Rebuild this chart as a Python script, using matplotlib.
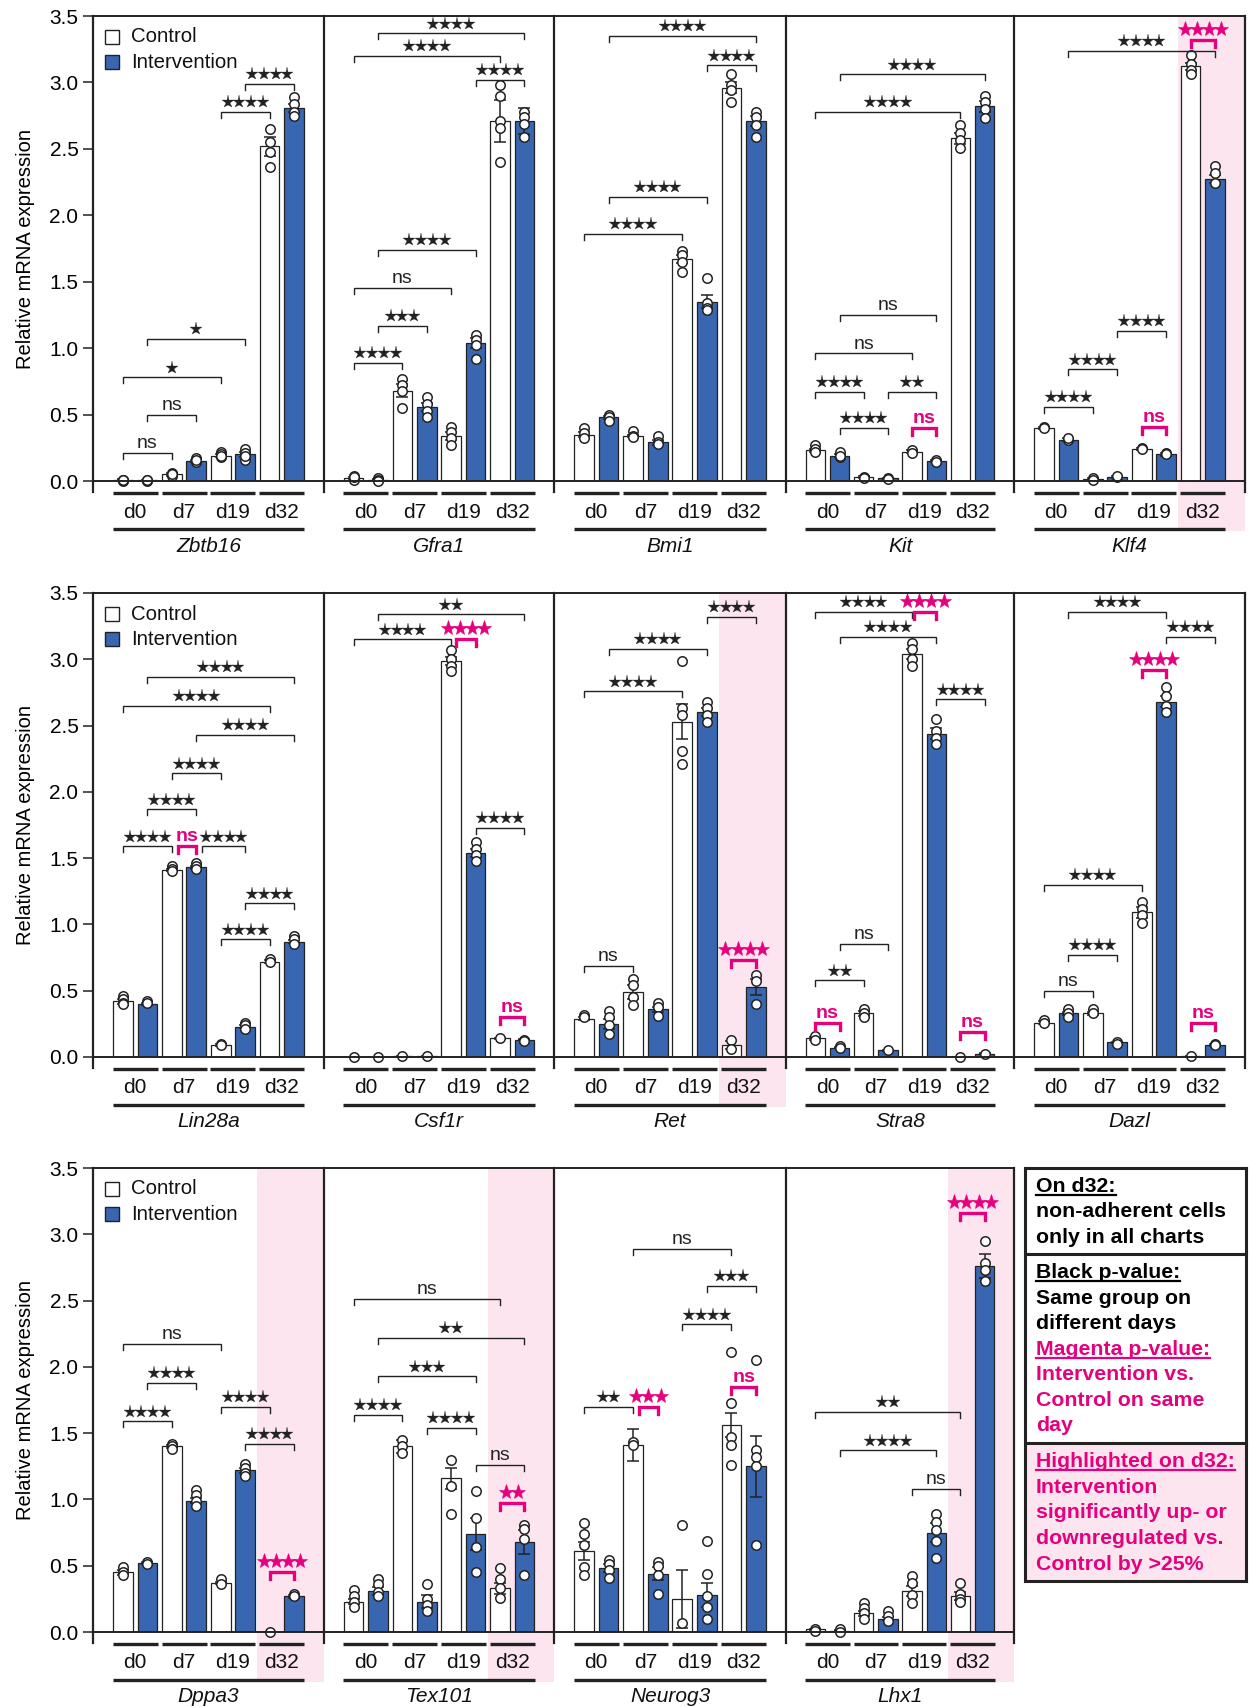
import matplotlib
matplotlib.use("Agg")
import matplotlib.pyplot as plt
from matplotlib.patches import Rectangle
from matplotlib.lines import Line2D
from matplotlib.transforms import ScaledTranslation
import numpy as np

plt.rcParams['font.family'] = ['Liberation Sans', 'DejaVu Sans']

W, H = 1249, 1707
BLUE = "#3866b0"
MAGENTA = "#e5007e"
PINK = "#fde5ef"
INK = "#222222"

genes = ["Zbtb16", "Gfra1", "Bmi1", "Kit", "Klf4",
         "Lin28a", "Csf1r", "Ret", "Stra8", "Dazl",
         "Dppa3", "Tex101", "Neurog3", "Lhx1"]
days = ["d0", "d7", "d19", "d32"]
highlighted = ["Klf4", "Ret", "Dppa3", "Tex101", "Lhx1"]

# bar heights (mean) per gene, d0..d32
ctrl_mean = [
    [0.01, 0.05, 0.19, 2.52], [0.02, 0.68, 0.34, 2.71], [0.35, 0.34, 1.67, 2.96],
    [0.23, 0.03, 0.22, 2.58], [0.40, 0.015, 0.24, 3.12],
    [0.42, 1.41, 0.09, 0.72], [0.0, 0.005, 2.99, 0.14], [0.29, 0.49, 2.53, 0.09],
    [0.14, 0.33, 3.04, 0.0], [0.26, 0.33, 1.09, 0.005],
    [0.45, 1.40, 0.37, 0.0], [0.23, 1.40, 1.16, 0.33], [0.61, 1.41, 0.25, 1.56],
    [0.02, 0.14, 0.31, 0.27],
]
int_mean = [
    [0.005, 0.15, 0.20, 2.81], [0.01, 0.56, 1.04, 2.71], [0.48, 0.29, 1.35, 2.71],
    [0.19, 0.02, 0.15, 2.82], [0.31, 0.03, 0.20, 2.27],
    [0.40, 1.43, 0.23, 0.87], [0.0, 0.005, 1.54, 0.13], [0.25, 0.36, 2.60, 0.53],
    [0.07, 0.05, 2.44, 0.025], [0.33, 0.11, 2.68, 0.09],
    [0.52, 0.99, 1.22, 0.27], [0.31, 0.23, 0.74, 0.68], [0.48, 0.44, 0.28, 1.25],
    [0.01, 0.10, 0.75, 2.76],
]
ctrl_sem = [
    [0.003, 0.01, 0.01, 0.07], [0.01, 0.05, 0.03, 0.16], [0.02, 0.01, 0.03, 0.04],
    [0.01, 0.005, 0.01, 0.04], [0.01, 0.005, 0.01, 0.03],
    [0.02, 0.01, 0.005, 0.01], [0.0, 0.002, 0.03, 0.005], [0.01, 0.05, 0.13, 0.03],
    [0.01, 0.02, 0.04, 0.0], [0.01, 0.01, 0.04, 0.002],
    [0.02, 0.01, 0.01, 0.0], [0.02, 0.05, 0.08, 0.04], [0.07, 0.12, 0.22, 0.09],
    [0.005, 0.02, 0.04, 0.03],
]
int_sem = [
    [0.002, 0.01, 0.02, 0.03], [0.005, 0.03, 0.04, 0.10], [0.01, 0.02, 0.05, 0.04],
    [0.01, 0.005, 0.01, 0.04], [0.01, 0.005, 0.01, 0.03],
    [0.01, 0.01, 0.01, 0.01], [0.0, 0.002, 0.03, 0.005], [0.04, 0.02, 0.03, 0.06],
    [0.005, 0.005, 0.04, 0.005], [0.01, 0.005, 0.04, 0.005],
    [0.005, 0.02, 0.02, 0.01], [0.03, 0.05, 0.12, 0.09], [0.03, 0.05, 0.09, 0.23],
    [0.005, 0.01, 0.07, 0.09],
]

# individual replicates
ctrl_pts = [
    [[0.0, 0.01, 0.005, 0.01], [0.06, 0.05, 0.04, 0.05], [0.22, 0.20, 0.18, 0.19], [2.65, 2.55, 2.48, 2.36]],
    [[0.04, 0.02, 0.01, 0.03], [0.77, 0.72, 0.68, 0.55], [0.41, 0.37, 0.32, 0.27], [2.98, 2.90, 2.71, 2.66, 2.40]],
    [[0.40, 0.36, 0.32], [0.38, 0.34, 0.33], [1.73, 1.70, 1.65, 1.57], [3.06, 2.98, 2.94, 2.85]],
    [[0.27, 0.24, 0.22], [0.03, 0.02], [0.23, 0.21], [2.68, 2.62, 2.57, 2.51]],
    [[0.41, 0.40], [0.02, 0.01], [0.25, 0.24], [3.21, 3.14, 3.09, 3.06]],
    [[0.46, 0.44, 0.41, 0.40], [1.44, 1.42, 1.40], [0.10, 0.09], [0.74, 0.72]],
    [[0.0], [0.005], [3.07, 3.00, 2.95, 2.91], [0.14]],
    [[0.32, 0.30], [0.59, 0.54, 0.45, 0.39], [2.99, 2.63, 2.58, 2.31, 2.21], [0.13, 0.06]],
    [[0.16, 0.13], [0.36, 0.33, 0.30], [3.12, 3.08, 3.00, 2.95], [0.0]],
    [[0.28, 0.26], [0.36, 0.33], [1.17, 1.12, 1.07, 1.01], [0.005]],
    [[0.49, 0.45, 0.43], [1.42, 1.40, 1.38], [0.40, 0.36], [0.0]],
    [[0.32, 0.27, 0.23, 0.19], [1.45, 1.40, 1.35], [1.30, 1.10, 0.89], [0.48, 0.40, 0.33, 0.26]],
    [[0.82, 0.74, 0.66, 0.49, 0.43], [1.43, 1.41], [0.81, 0.07], [2.11, 1.73, 1.47, 1.41, 1.26]],
    [[0.02, 0.01], [0.22, 0.18, 0.14, 0.10], [0.42, 0.37, 0.28, 0.22], [0.37, 0.29, 0.25, 0.23]],
]
int_pts = [
    [[0.0, 0.005, 0.01], [0.17, 0.15, 0.14, 0.16], [0.24, 0.21, 0.16, 0.19], [2.89, 2.84, 2.78, 2.75]],
    [[0.02, 0.01, 0.0], [0.63, 0.58, 0.53, 0.48], [1.10, 1.06, 1.02, 0.92], [2.78, 2.74, 2.69, 2.59]],
    [[0.50, 0.48, 0.45], [0.34, 0.29, 0.28], [1.53, 1.34, 1.30, 1.29], [2.78, 2.74, 2.68, 2.59]],
    [[0.22, 0.18, 0.19], [0.02, 0.015], [0.16, 0.14], [2.90, 2.85, 2.80, 2.73]],
    [[0.31, 0.32], [0.03, 0.04], [0.21, 0.20], [2.37, 2.32, 2.24]],
    [[0.42, 0.41], [1.46, 1.44, 1.42], [0.26, 0.24, 0.21], [0.91, 0.89, 0.85]],
    [[0.0], [0.005], [1.62, 1.57, 1.52, 1.48], [0.13, 0.12]],
    [[0.35, 0.30, 0.24, 0.17], [0.41, 0.38, 0.31], [2.68, 2.63, 2.58, 2.53], [0.62, 0.57, 0.40]],
    [[0.08, 0.07], [0.05], [2.55, 2.46, 2.41, 2.36], [0.025]],
    [[0.36, 0.33, 0.30], [0.11, 0.10], [2.79, 2.72, 2.65, 2.60], [0.10, 0.09]],
    [[0.53, 0.51], [1.07, 1.03, 0.99, 0.95], [1.27, 1.24, 1.20, 1.18], [0.29, 0.27]],
    [[0.40, 0.36, 0.30, 0.27], [0.36, 0.25, 0.20, 0.16], [1.06, 0.86, 0.64, 0.45], [0.81, 0.78, 0.70, 0.43]],
    [[0.54, 0.51, 0.47, 0.41], [0.53, 0.50, 0.43, 0.29], [0.69, 0.44, 0.27, 0.19, 0.10], [2.05, 1.37, 1.32, 1.25, 0.66]],
    [[0.02, 0.0], [0.16, 0.12, 0.08], [0.89, 0.83, 0.77, 0.69, 0.56], [2.95, 2.78, 2.73, 2.65]],
]

# significance brackets: (from bar, to bar, height, label, intervention-vs-control)
# bar index = 2*day for control, 2*day+1 for intervention
brackets = [
    [(0, 2, 0.21, "ns", 0), (1, 3, 0.50, "ns", 0), (0, 4, 0.78, "*", 0), (1, 5, 1.07, "*", 0),
     (4, 6, 2.78, "****", 0), (5, 7, 2.99, "****", 0)],
    [(0, 2, 0.89, "****", 0), (1, 3, 1.17, "***", 0), (0, 4, 1.45, "ns", 0), (1, 5, 1.74, "****", 0),
     (5, 7, 3.02, "****", 0), (0, 6, 3.20, "****", 0), (1, 7, 3.37, "****", 0)],
    [(0, 4, 1.86, "****", 0), (1, 5, 2.14, "****", 0), (5, 7, 3.13, "****", 0), (1, 7, 3.35, "****", 0)],
    [(0, 2, 0.67, "****", 0), (1, 3, 0.40, "****", 0), (3, 5, 0.67, "**", 0), (4, 5, 0.40, "ns", 1),
     (0, 4, 0.96, "ns", 0), (1, 5, 1.25, "ns", 0), (0, 6, 2.78, "****", 0), (1, 7, 3.06, "****", 0)],
    [(0, 2, 0.56, "****", 0), (1, 3, 0.84, "****", 0), (3, 5, 1.13, "****", 0), (4, 5, 0.41, "ns", 1),
     (1, 7, 3.24, "****", 0), (6, 7, 3.32, "****", 1)],
    [(0, 2, 1.59, "****", 0), (2.25, 3, 1.59, "ns", 1), (3.25, 5, 1.59, "****", 0), (1, 3, 1.87, "****", 0),
     (2, 4, 2.14, "****", 0), (3, 7, 2.43, "****", 0), (0, 6, 2.65, "****", 0), (1, 7, 2.87, "****", 0),
     (4, 6, 0.89, "****", 0), (5, 7, 1.16, "****", 0)],
    [(0, 4, 3.15, "****", 0), (4.2, 5, 3.15, "****", 1), (1, 7, 3.34, "**", 0), (5, 7, 1.73, "****", 0),
     (6, 7, 0.30, "ns", 1)],
    [(0, 2, 0.69, "ns", 0), (0, 4, 2.76, "****", 0), (1, 5, 3.08, "****", 0), (5, 7, 3.32, "****", 0),
     (6, 7, 0.73, "****", 1)],
    [(0, 1, 0.26, "ns", 1), (0, 2, 0.58, "**", 0), (1, 3, 0.85, "ns", 0), (0, 4, 3.36, "****", 0),
     (4.1, 5, 3.36, "****", 1), (1, 5, 3.17, "****", 0), (5, 7, 2.70, "****", 0), (6, 7, 0.19, "ns", 1)],
    [(0, 2, 0.50, "ns", 0), (1, 3, 0.77, "****", 0), (0, 4, 1.30, "****", 0), (4, 5, 2.92, "****", 1),
     (5, 7, 3.17, "****", 0), (1, 5, 3.36, "****", 0), (6, 7, 0.26, "ns", 1)],
    [(0, 2, 1.59, "****", 0), (1, 3, 1.88, "****", 0), (0, 4, 2.17, "ns", 0), (4, 6, 1.70, "****", 0),
     (5, 7, 1.42, "****", 0), (6, 7, 0.45, "****", 1)],
    [(0, 2, 1.64, "****", 0), (3, 5, 1.54, "****", 0), (1, 5, 1.93, "***", 0), (1, 7, 2.22, "**", 0),
     (0, 6, 2.51, "ns", 0), (5, 7, 1.26, "ns", 0), (6, 7, 0.97, "**", 1)],
    [(0, 2, 1.70, "**", 0), (2.25, 3, 1.70, "***", 1), (6, 7, 1.85, "ns", 1), (4, 6, 2.32, "****", 0),
     (5, 7, 2.61, "***", 0), (2, 6, 2.89, "ns", 0)],
    [(4, 6, 1.08, "ns", 0), (1, 5, 1.37, "****", 0), (0, 6, 1.66, "**", 0), (6, 7, 3.16, "****", 1)],
]

# page geometry in pixels
col_x = [93, 324, 554, 786, 1014, 1245]
row_top = [16, 593, 1168]
row_zero = [481, 1057, 1632]
YMAX = 3.5
PXU = (row_zero[0] - row_top[0]) / YMAX
XLIM = (-1.22, 8.22)

fig = plt.figure(figsize=(W / 100, H / 100), dpi=100)


def fx(px):
    return px / W


def fy(py):
    return 1 - py / H


def draw_bracket(ax, a, b, y, label, mag):
    col = MAGENTA if mag else INK
    lw = 2.4 if mag else 1.0
    tick = (7 if mag else 6) / PXU
    ax.plot([a, a, b, b], [y - tick, y, y, y - tick], color=col, lw=lw,
            clip_on=False, zorder=6, solid_joinstyle="miter")
    xm = (a + b) / 2
    if label == "ns":
        ax.annotate("ns", xy=(xm, y), xytext=(0, 3.5), textcoords="offset points",
                    ha="center", va="baseline", fontsize=14, color=col,
                    fontweight="bold" if mag else "normal", zorder=7, annotation_clip=False)
        return
    # asterisks drawn as five-pointed star markers, spaced in pixels
    n = len(label)
    step = 12.2 if mag else 11.8
    size = 11.0 if mag else 9.5
    for i in range(n):
        dx = (i - (n - 1) / 2) * step
        tr = ax.transData + ScaledTranslation(dx / 100, (11 if mag else 9.5) / 100,
                                              fig.dpi_scale_trans)
        ax.plot([xm], [y], marker="*", ms=size, color=col, mec=col, mew=0.4 if mag else 0.2,
                transform=tr, clip_on=False, zorder=7, ls="none")


for k, gene in enumerate(genes):
    row, col = divmod(k, 5)
    x0, x1 = col_x[col], col_x[col + 1]
    top, zero = row_top[row], row_zero[row]
    ax = fig.add_axes([fx(x0), fy(zero), (x1 - x0) / W, (zero - top) / H])
    ax.set_xlim(*XLIM)
    ax.set_ylim(0, YMAX)
    for s in ax.spines.values():
        s.set_visible(False)
    ax.set_xticks([])
    ax.patch.set_alpha(0)

    below = 11 / (zero - top)
    ax.plot([0, 1], [1, 1], transform=ax.transAxes, color=INK, lw=1.4, clip_on=False, zorder=8)
    ax.plot([0, 1], [0, 0], transform=ax.transAxes, color=INK, lw=1.4, clip_on=False, zorder=8)
    ax.plot([0, 0], [-below, 1], transform=ax.transAxes, color=INK, lw=1.6, clip_on=False, zorder=8)
    if col == 4 or k == len(genes) - 1:
        ax.plot([1, 1], [-below, 1], transform=ax.transAxes, color=INK, lw=1.6, clip_on=False, zorder=8)

    if col == 0:
        ax.set_yticks(np.arange(0, 3.51, 0.5))
        ax.set_yticklabels([f"{v:.1f}" for v in np.arange(0, 3.51, 0.5)])
        ax.tick_params(axis="y", length=7.5, width=1.1, labelsize=15, pad=3, color=INK)
        ax.set_ylabel("Relative mRNA expression", fontsize=14.5, labelpad=10)
    else:
        ax.set_yticks([])

    if gene in highlighted:
        ax.axvspan(5.5, XLIM[1], ymin=-50 / (zero - top), ymax=1, color=PINK, lw=0,
                   zorder=0, clip_on=False)

    xc = np.arange(4) * 2
    xi = xc + 1
    ax.bar(xc, ctrl_mean[k], width=0.8, color="white", edgecolor=INK, lw=0.9, zorder=2)
    ax.bar(xi, int_mean[k], width=0.8, color=BLUE, edgecolor=INK, lw=0.9, zorder=2)
    ax.errorbar(xc, ctrl_mean[k], yerr=ctrl_sem[k], fmt="none", ecolor=INK, elinewidth=1.1,
                capsize=4.5, capthick=1.1, zorder=3)
    ax.errorbar(xi, int_mean[k], yerr=int_sem[k], fmt="none", ecolor=INK, elinewidth=1.1,
                capsize=4.5, capthick=1.1, zorder=3)
    for d in range(4):
        for xpos, pts in ((xc[d], ctrl_pts[k][d]), (xi[d], int_pts[k][d])):
            ax.plot([xpos] * len(pts), pts, "o", mfc="white", mec=INK, ms=6.8, mew=1.1,
                    zorder=4, clip_on=False)

    for a, b, y, label, mag in brackets[k]:
        draw_bracket(ax, a, b, y, label, mag)

    # day and gene labels under the axis
    for d, day in enumerate(days):
        ax.plot([2 * d - 0.42, 2 * d + 1.42], [-12 / PXU] * 2, color=INK, lw=2.4,
                clip_on=False, solid_capstyle="butt", zorder=3)
        ax.text(2 * d + 0.5, -31 / PXU, day, ha="center", va="center", fontsize=15, color="#111111")
    ax.plot([-0.42, 7.42], [-48 / PXU] * 2, color=INK, lw=2.4, clip_on=False,
            solid_capstyle="butt", zorder=3)
    ax.text(3.5, -65 / PXU, gene, ha="center", va="center", fontsize=15, style="italic",
            color="#111111")

    if col == 0:
        for j, (name, face) in enumerate((("Control", "white"), ("Intervention", BLUE))):
            cy = top + 21 + 25 * j
            fig.patches.append(Rectangle((fx(105), fy(cy + 7)), 14 / W, 14 / H, facecolor=face,
                                         edgecolor=INK, lw=1.0, transform=fig.transFigure,
                                         figure=fig, zorder=10))
            fig.text(fx(131), fy(cy), name, ha="left", va="center", fontsize=14.7, color="#111111")

# explanation box in the free slot of the last row
bx0, bx1 = 1025, 1246
by = [1168, 1254, 1443, 1581]
fig.patches.append(Rectangle((fx(bx0), fy(by[3])), (bx1 - bx0) / W, (by[3] - by[2]) / H,
                             facecolor=PINK, edgecolor="none", transform=fig.transFigure,
                             figure=fig, zorder=1))
for yy in by:
    fig.lines.append(Line2D([fx(bx0), fx(bx1)], [fy(yy)] * 2, color=INK, lw=2.2,
                            transform=fig.transFigure, figure=fig))
for xx in (bx0, bx1):
    fig.lines.append(Line2D([fx(xx)] * 2, [fy(by[0]), fy(by[3])], color=INK, lw=2.2,
                            transform=fig.transFigure, figure=fig))

note_lines = [
    ("On d32:", 1192, "black", True),
    ("non-adherent cells", 1217, "black", False),
    ("only in all charts", 1243, "black", False),
    ("Black p-value:", 1278, "black", True),
    ("Same group on", 1304, "black", False),
    ("different days", 1329, "black", False),
    ("Magenta p-value:", 1355, MAGENTA, True),
    ("Intervention vs.", 1380, MAGENTA, False),
    ("Control on same", 1406, MAGENTA, False),
    ("day", 1431, MAGENTA, False),
    ("Highlighted on d32:", 1467, MAGENTA, True),
    ("Intervention", 1493, MAGENTA, False),
    ("significantly up- or", 1518, MAGENTA, False),
    ("downregulated vs.", 1544, MAGENTA, False),
    ("Control by >25%", 1570, MAGENTA, False),
]
renderer = fig.canvas.get_renderer()
for text, base, color, underline in note_lines:
    t = fig.text(fx(1036), fy(base), text, ha="left", va="baseline", fontsize=15.3,
                 fontweight="bold", color=color)
    if underline:
        bb = t.get_window_extent(renderer)
        fig.lines.append(Line2D([bb.x0 / W, bb.x1 / W], [fy(base + 3)] * 2, color=color, lw=1.6,
                                transform=fig.transFigure, figure=fig))

fig.savefig("out.png", dpi=100)
